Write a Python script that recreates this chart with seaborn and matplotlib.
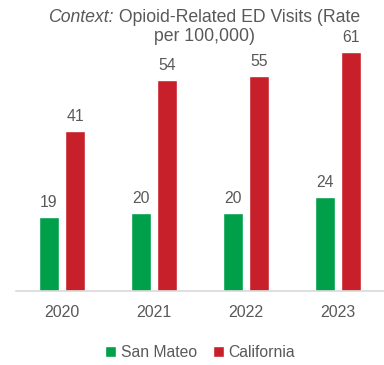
import matplotlib
matplotlib.use("Agg")
import matplotlib.pyplot as plt
import seaborn as sns
import pandas as pd

years = ["2020", "2021", "2022", "2023"]
san_mateo = [19, 20, 20, 24]
california = [41, 54, 55, 61]
series = ["San Mateo", "California"]
colors = ["#00A04B", "#C8202A"]

df = pd.DataFrame({
    "year": years * 2,
    "rate": san_mateo + california,
    "region": [series[0]] * len(years) + [series[1]] * len(years),
})

sns.set_theme(style="white")
plt.rcParams["font.family"] = ["Liberation Sans", "DejaVu Sans"]
text_color = "#595959"

fig = plt.figure(figsize=(3.84, 3.65), dpi=100)
ax = fig.add_axes([16 / 384, 74 / 365, 368 / 384, 274 / 365])

sns.barplot(data=df, x="year", y="rate", hue="region", hue_order=series,
            palette=colors, width=0.565, gap=0.23, ax=ax, legend=True,
            saturation=1)

for container in ax.containers:
    ax.bar_label(container, fmt="%d", padding=5, fontsize=11.3, color=text_color)

ax.set_xlim(-0.5, 3.5)
ax.set_ylim(0, 70)
ax.set_xlabel("")
ax.set_ylabel("")
ax.set_yticks([])
for s in ["top", "left", "right"]:
    ax.spines[s].set_visible(False)
ax.spines["bottom"].set_color("#D9D9D9")
ax.spines["bottom"].set_linewidth(1.2)
ax.tick_params(axis="x", length=0, pad=10, labelsize=11.5, labelcolor=text_color)

ax.legend(loc="center", bbox_to_anchor=(0.5, -0.225), ncol=2, frameon=False,
          fontsize=11.3, handlelength=0.7, handleheight=0.7, handletextpad=0.3,
          columnspacing=1.0, labelcolor=text_color)

# Two-line title: italic lead-in followed by regular text, centred as a block
title_size = 12.7
center_x = 204 / 384
renderer = fig.canvas.get_renderer()
lead = fig.text(0, 0.953, "Context:", ha="left", va="center",
                fontsize=title_size, color=text_color, style="italic")
rest = fig.text(0, 0.953, " Opioid-Related ED Visits (Rate", ha="left",
                va="center", fontsize=title_size, color=text_color)
w_lead = lead.get_window_extent(renderer).width / fig.bbox.width
w_rest = rest.get_window_extent(renderer).width / fig.bbox.width
start = center_x - (w_lead + w_rest) / 2
lead.set_x(start)
rest.set_x(start + w_lead)
fig.text(center_x, 0.9, "per 100,000)", ha="center", va="center",
         fontsize=title_size, color=text_color)

fig.savefig("out.png", dpi=100)
